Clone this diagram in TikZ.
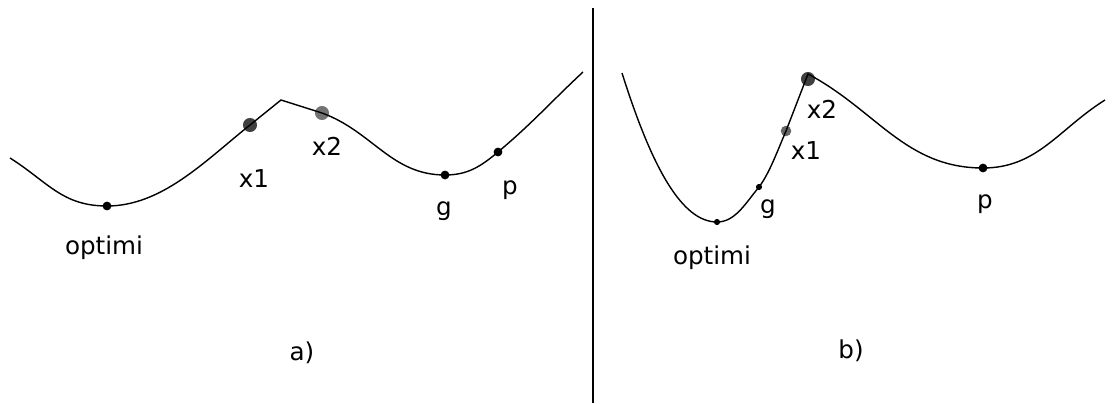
\documentclass[tikz,border=0pt]{standalone}
\usepackage{fontspec}
\setmainfont{DejaVu Sans}
\usetikzlibrary{positioning}

\begin{document}
\begin{tikzpicture}[
    x=0.02cm, y=0.02cm,
    curve/.style={line width=0.8pt, black},
    dot/.style={circle, fill=black, inner sep=0pt, minimum size=5pt},
    smalldot/.style={circle, fill=black, inner sep=0pt, minimum size=3.5pt},
    bigdot/.style={circle, inner sep=0pt, minimum size=8pt},
    lbl/.style={font=\fontsize{14}{16}\selectfont, inner sep=0pt}
  ]
  \useasboundingbox (0, 0) rectangle (1113, 403);

  % panel a)
  \coordinate (a-start) at (10, 245);
  \coordinate (a-peak) at (281, 303);
  \coordinate (a-end) at (583, 331);
  \node[dot] (a-opt) at (107, 197) {};
  \node[bigdot, fill=black!75] (a-x1) at (250, 278) {};
  \node[bigdot, fill=black!55] (a-x2) at (322, 290) {};
  \node[dot] (a-g) at (445, 228) {};
  \node[dot] (a-p) at (498, 251) {};

  \draw[curve] (a-start) .. controls +(38,-24) and +(-45,0) .. (a-opt.center)
    .. controls +(55,0) and +(-45,-36) .. (a-x1.center) -- (a-peak)
    -- (a-x2.center) to[out=-20, in=180] (a-g.center)
    to[out=0, in=220] (a-p.center) to[out=40, in=223] (a-end);

  \node[lbl] (a-opt-l) at (104, 155) {optimi};
  \node[lbl] (a-x1-l) at (254, 224) {x1};
  \node[lbl] (a-x2-l) at (327, 257) {x2};
  \node[lbl] (a-g-l) at (444, 192) {g};
  \node[lbl] (a-p-l) at (510, 213) {p};
  \node[lbl] (a-cap) at (302, 50) {a)};

  % divider
  \coordinate (div-top) at (593, 395);
  \coordinate (div-bot) at (593, 0);
  \draw[line width=1.1pt] (div-top) -- (div-bot);

  % panel b)
  \coordinate (b-start) at (622, 330);
  \coordinate (b-peak) at (808, 329);
  \coordinate (b-end) at (1105, 303);
  \node[smalldot] (b-opt) at (717, 181) {};
  \node[smalldot] (b-g) at (759, 216) {};
  \node[bigdot, minimum size=6pt, fill=black!60] (b-x1) at (786, 272) {};
  \node[bigdot, fill=black!75] (b-x2) at (808, 324) {};
  \node[dot] (b-p) at (983, 235) {};

  \draw[curve] (b-start) .. controls +(30,-95) and +(-35,0) .. (b-opt.center)
    .. controls +(18,0) and +(-14,-17) .. (b-g.center)
    .. controls +(10,13) and +(-9,-21) .. (b-x1.center)
    -- (b-peak) to[out=-28, in=180] (b-p.center)
    to[out=0, in=212] (b-end);

  \node[lbl] (b-opt-l) at (712, 145) {optimi};
  \node[lbl] (b-g-l) at (768, 194) {g};
  \node[lbl] (b-x1-l) at (806, 252) {x1};
  \node[lbl] (b-x2-l) at (822, 294) {x2};
  \node[lbl] (b-p-l) at (985, 199) {p};
  \node[lbl] (b-cap) at (851, 52) {b)};
\end{tikzpicture}
\end{document}
